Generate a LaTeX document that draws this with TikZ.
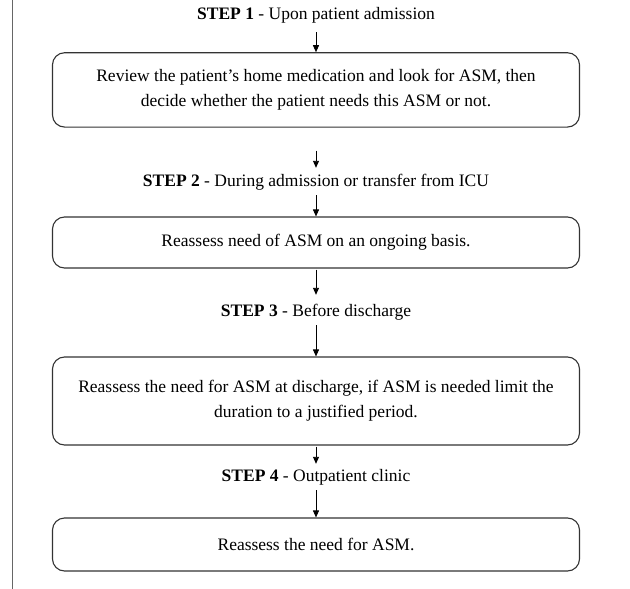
\documentclass[tikz,border=0pt]{standalone}
\usepackage{fontspec}
\setmainfont{Liberation Serif}
\usetikzlibrary{arrows.meta}
\begin{document}
\begin{tikzpicture}[x=1pt,y=-1pt,
  stepbox/.style={draw=black!80,line width=1.1pt,rounded corners=12pt,
    minimum width=527pt,align=center,inner sep=0pt,
    font=\fontsize{17.5}{25}\selectfont},
  steplabel/.style={inner xsep=2pt,inner ysep=0pt,minimum height=26pt,
    font=\fontsize{17.5}{21}\selectfont},
  arr/.style={draw=black,line width=0.9pt,-{Triangle[length=7pt,width=6pt]}}]
\useasboundingbox (0,0) rectangle (630,589);
\draw[black!60,line width=1pt] (12.3,0) -- (12.3,589);

\node[steplabel] (s1) at (316,15) {\textbf{STEP 1} - Upon patient admission};
\node[stepbox,minimum height=74.3pt] (b1) at (316,89.9)
  {Review the patient’s home medication and look for ASM, then\\
   decide whether the patient needs this ASM or not.};

\node[steplabel] (s2) at (316,182) {\textbf{STEP 2} - During admission or transfer from ICU};
\node[stepbox,minimum height=51pt] (b2) at (316,242.5)
  {Reassess need of ASM on an ongoing basis.};

\node[steplabel] (s3) at (316,312) {\textbf{STEP 3} - Before discharge};
\node[stepbox,minimum height=88pt] (b3) at (316,401)
  {Reassess the need for ASM at discharge, if ASM is needed limit the\\
   duration to a justified period.};

\node[steplabel] (s4) at (316,477) {\textbf{STEP 4} - Outpatient clinic};
\node[stepbox,minimum height=53pt] (b4) at (316,544.5)
  {Reassess the need for ASM.};

\draw[arr,shorten <=4pt] (s1) -- (b1);
\draw[arr,shorten <=23pt,shorten >=1pt] (b1) -- (s2);
\draw[arr] (s2) -- (b2);
\draw[arr,shorten <=1pt,shorten >=4pt] (b2) -- (s3);
\draw[arr] (s3) -- (b3);
\draw[arr,shorten <=1pt] (b3) -- (s4);
\draw[arr] (s4) -- (b4);
\end{tikzpicture}
\end{document}
